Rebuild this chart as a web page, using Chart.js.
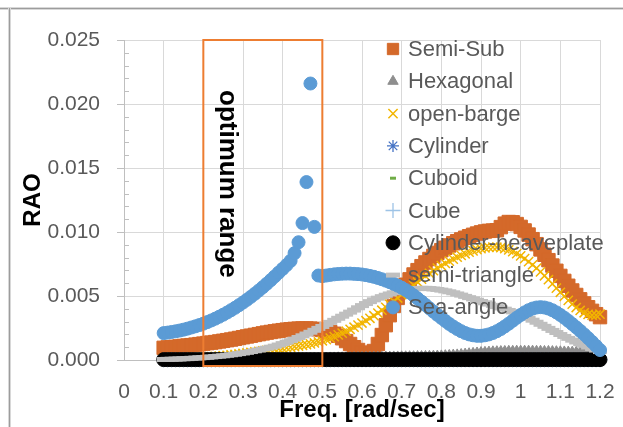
<!DOCTYPE html>
<html>
<head>
<meta charset="utf-8">
<script src="https://cdn.jsdelivr.net/npm/chart.js@4/dist/chart.umd.min.js"></script>
<style>
  html, body { margin: 0; padding: 0; background: #ffffff; }
  #wrap { position: relative; width: 623px; height: 427px; overflow: hidden; background: #ffffff; }
  .frame { position: absolute; background: #9c9c9c; box-shadow: 0 0 0 1px #d8d8d8; }
  #frameTop { left: 0; top: 8px; width: 623px; height: 1px; }
  #frameLeft { left: 9px; top: 8px; width: 1px; height: 419px; }
  canvas { position: absolute; left: 0; top: 0; }
</style>
</head>
<body>
<div id="wrap">
  <div class="frame" id="frameTop"></div>
  <div class="frame" id="frameLeft"></div>
  <canvas id="c" width="623" height="427"></canvas>
</div>
<script>
// Frequency grid [rad/sec]
const freq = [
  0.10,0.11,0.12,0.13,0.14,0.15,0.16,0.17,0.18,0.19,
  0.20,0.21,0.22,0.23,0.24,0.25,0.26,0.27,0.28,0.29,
  0.30,0.31,0.32,0.33,0.34,0.35,0.36,0.37,0.38,0.39,
  0.40,0.41,0.42,0.43,0.44,0.45,0.46,0.47,0.48,0.49,
  0.50,0.51,0.52,0.53,0.54,0.55,0.56,0.57,0.58,0.59,
  0.60,0.61,0.62,0.63,0.64,0.65,0.66,0.67,0.68,0.69,
  0.70,0.71,0.72,0.73,0.74,0.75,0.76,0.77,0.78,0.79,
  0.80,0.81,0.82,0.83,0.84,0.85,0.86,0.87,0.88,0.89,
  0.90,0.91,0.92,0.93,0.94,0.95,0.96,0.97,0.98,0.99,
  1.00,1.01,1.02,1.03,1.04,1.05,1.06,1.07,1.08,1.09,
  1.10,1.11,1.12,1.13,1.14,1.15,1.16,1.17,1.18,1.19,
  1.20
];

// RAO per hull shape, one value per frequency above
const semiSub = [
  0.00095,0.00098,0.00100,0.00103,0.00106,0.00110,0.00113,0.00116,0.00120,0.00124,
  0.00128,0.00132,0.00136,0.00140,0.00145,0.00150,0.00155,0.00160,0.00166,0.00172,
  0.00178,0.00184,0.00190,0.00196,0.00202,0.00208,0.00214,0.00219,0.00224,0.00229,
  0.00233,0.00237,0.00240,0.00243,0.00245,0.00246,0.00246,0.00245,0.00243,0.00240,
  0.00235,0.00228,0.00218,0.00205,0.00189,0.00170,0.00148,0.00125,0.00100,0.00078,
  0.00058,0.00045,0.00045,0.00070,0.00125,0.00195,0.00272,0.00350,0.00422,0.00485,
  0.00540,0.00588,0.00630,0.00668,0.00702,0.00733,0.00762,0.00789,0.00814,0.00837,
  0.00858,0.00877,0.00895,0.00912,0.00928,0.00942,0.00955,0.00967,0.00978,0.00988,
  0.00997,0.01004,0.01009,0.01011,0.01014,0.01038,0.01065,0.01078,0.01076,0.01062,
  0.01040,0.01012,0.00980,0.00944,0.00905,0.00864,0.00822,0.00780,0.00738,0.00697,
  0.00657,0.00618,0.00580,0.00543,0.00508,0.00474,0.00442,0.00412,0.00384,0.00358,
  0.00335
];

const hexagonal = [
  0.00002,0.00002,0.00002,0.00002,0.00003,0.00003,0.00003,0.00003,0.00003,0.00004,
  0.00004,0.00004,0.00004,0.00005,0.00005,0.00005,0.00005,0.00006,0.00006,0.00006,
  0.00006,0.00007,0.00007,0.00007,0.00008,0.00008,0.00008,0.00009,0.00009,0.00010,
  0.00010,0.00010,0.00011,0.00011,0.00012,0.00012,0.00013,0.00013,0.00014,0.00014,
  0.00015,0.00015,0.00016,0.00016,0.00017,0.00017,0.00018,0.00018,0.00019,0.00019,
  0.00020,0.00020,0.00021,0.00021,0.00022,0.00022,0.00023,0.00023,0.00024,0.00024,
  0.00025,0.00025,0.00026,0.00026,0.00027,0.00027,0.00028,0.00029,0.00030,0.00031,
  0.00032,0.00034,0.00036,0.00038,0.00040,0.00043,0.00046,0.00049,0.00052,0.00055,
  0.00058,0.00060,0.00062,0.00064,0.00065,0.00066,0.00067,0.00068,0.00068,0.00069,
  0.00069,0.00069,0.00069,0.00069,0.00068,0.00068,0.00067,0.00067,0.00066,0.00065,
  0.00064,0.00063,0.00062,0.00061,0.00060,0.00059,0.00058,0.00057,0.00056,0.00055,
  0.00054
];

const openBarge = [
  0.00010,0.00011,0.00012,0.00013,0.00014,0.00015,0.00016,0.00017,0.00019,0.00020,
  0.00022,0.00024,0.00026,0.00028,0.00031,0.00034,0.00037,0.00040,0.00043,0.00047,
  0.00051,0.00055,0.00059,0.00063,0.00067,0.00071,0.00075,0.00079,0.00083,0.00087,
  0.00091,0.00095,0.00099,0.00104,0.00109,0.00114,0.00120,0.00126,0.00133,0.00141,
  0.00150,0.00160,0.00171,0.00183,0.00196,0.00210,0.00225,0.00240,0.00256,0.00272,
  0.00289,0.00307,0.00326,0.00346,0.00367,0.00389,0.00412,0.00436,0.00460,0.00484,
  0.00510,0.00535,0.00560,0.00585,0.00609,0.00632,0.00655,0.00677,0.00698,0.00718,
  0.00737,0.00755,0.00772,0.00788,0.00803,0.00817,0.00830,0.00842,0.00853,0.00862,
  0.00870,0.00876,0.00880,0.00882,0.00881,0.00877,0.00870,0.00860,0.00847,0.00831,
  0.00813,0.00792,0.00769,0.00744,0.00717,0.00688,0.00658,0.00627,0.00595,0.00562,
  0.00529,0.00497,0.00466,0.00437,0.00410,0.00387,0.00369,0.00356,0.00350,0.00351,
  0.00358
];

const cylinder = [
  0.00001,0.00001,0.00001,0.00001,0.00001,0.00001,0.00001,0.00001,0.00001,0.00001,
  0.00001,0.00001,0.00001,0.00001,0.00001,0.00001,0.00001,0.00001,0.00001,0.00001,
  0.00001,0.00001,0.00001,0.00001,0.00001,0.00001,0.00001,0.00001,0.00001,0.00001,
  0.00001,0.00001,0.00001,0.00001,0.00001,0.00001,0.00001,0.00001,0.00001,0.00001,
  0.00001,0.00001,0.00001,0.00001,0.00001,0.00001,0.00001,0.00001,0.00001,0.00001,
  0.00001,0.00001,0.00001,0.00001,0.00001,0.00001,0.00001,0.00001,0.00001,0.00001,
  0.00001,0.00001,0.00001,0.00001,0.00001,0.00001,0.00001,0.00001,0.00001,0.00001,
  0.00001,0.00001,0.00001,0.00001,0.00001,0.00001,0.00001,0.00001,0.00001,0.00001,
  0.00001,0.00001,0.00001,0.00001,0.00001,0.00001,0.00001,0.00001,0.00001,0.00001,
  0.00001,0.00001,0.00001,0.00001,0.00001,0.00001,0.00001,0.00001,0.00001,0.00001,
  0.00001,0.00001,0.00001,0.00001,0.00001,0.00001,0.00001,0.00001,0.00001,0.00001,
  0.00001
];

const cuboid = [
  0.00002,0.00002,0.00002,0.00002,0.00002,0.00002,0.00002,0.00002,0.00002,0.00002,
  0.00002,0.00002,0.00002,0.00002,0.00002,0.00002,0.00002,0.00002,0.00002,0.00002,
  0.00002,0.00002,0.00002,0.00002,0.00002,0.00002,0.00002,0.00002,0.00002,0.00002,
  0.00002,0.00002,0.00002,0.00002,0.00002,0.00002,0.00002,0.00002,0.00002,0.00002,
  0.00002,0.00002,0.00002,0.00002,0.00002,0.00002,0.00002,0.00002,0.00002,0.00002,
  0.00002,0.00002,0.00002,0.00002,0.00002,0.00002,0.00002,0.00002,0.00002,0.00002,
  0.00002,0.00002,0.00002,0.00002,0.00002,0.00002,0.00002,0.00002,0.00002,0.00002,
  0.00002,0.00002,0.00002,0.00002,0.00002,0.00002,0.00002,0.00002,0.00002,0.00002,
  0.00002,0.00002,0.00002,0.00002,0.00002,0.00002,0.00002,0.00002,0.00002,0.00002,
  0.00002,0.00002,0.00002,0.00002,0.00002,0.00002,0.00002,0.00002,0.00002,0.00002,
  0.00002,0.00002,0.00002,0.00002,0.00002,0.00002,0.00002,0.00002,0.00002,0.00002,
  0.00002
];

const cube = [
  0.00001,0.00001,0.00001,0.00001,0.00001,0.00001,0.00001,0.00001,0.00001,0.00001,
  0.00001,0.00001,0.00001,0.00001,0.00001,0.00001,0.00001,0.00001,0.00001,0.00001,
  0.00001,0.00001,0.00001,0.00001,0.00001,0.00001,0.00001,0.00001,0.00001,0.00001,
  0.00001,0.00001,0.00001,0.00001,0.00001,0.00001,0.00001,0.00001,0.00001,0.00001,
  0.00001,0.00001,0.00001,0.00001,0.00001,0.00001,0.00001,0.00001,0.00001,0.00001,
  0.00001,0.00001,0.00001,0.00001,0.00001,0.00001,0.00001,0.00001,0.00001,0.00001,
  0.00001,0.00001,0.00001,0.00001,0.00001,0.00001,0.00001,0.00001,0.00001,0.00001,
  0.00001,0.00001,0.00001,0.00001,0.00001,0.00001,0.00001,0.00001,0.00001,0.00001,
  0.00001,0.00001,0.00001,0.00001,0.00001,0.00001,0.00001,0.00001,0.00001,0.00001,
  0.00001,0.00001,0.00001,0.00001,0.00001,0.00001,0.00001,0.00001,0.00001,0.00001,
  0.00001,0.00001,0.00001,0.00001,0.00001,0.00001,0.00001,0.00001,0.00001,0.00001,
  0.00001
];

const cylinderHeaveplate = [
  0.00003,0.00003,0.00003,0.00003,0.00003,0.00003,0.00003,0.00003,0.00003,0.00003,
  0.00003,0.00003,0.00003,0.00003,0.00003,0.00003,0.00003,0.00003,0.00003,0.00003,
  0.00003,0.00003,0.00003,0.00003,0.00003,0.00003,0.00003,0.00003,0.00003,0.00003,
  0.00003,0.00003,0.00003,0.00003,0.00003,0.00003,0.00003,0.00003,0.00003,0.00003,
  0.00003,0.00003,0.00003,0.00003,0.00003,0.00003,0.00003,0.00003,0.00003,0.00003,
  0.00003,0.00003,0.00003,0.00003,0.00003,0.00003,0.00003,0.00003,0.00003,0.00003,
  0.00003,0.00003,0.00003,0.00003,0.00003,0.00003,0.00003,0.00003,0.00003,0.00003,
  0.00003,0.00003,0.00003,0.00003,0.00003,0.00003,0.00003,0.00003,0.00003,0.00003,
  0.00003,0.00003,0.00003,0.00003,0.00003,0.00003,0.00003,0.00003,0.00003,0.00003,
  0.00003,0.00003,0.00003,0.00003,0.00003,0.00003,0.00003,0.00003,0.00003,0.00003,
  0.00003,0.00003,0.00003,0.00003,0.00003,0.00003,0.00003,0.00003,0.00003,0.00003,
  0.00003
];

const semiTriangle = [
  0.00004,0.00005,0.00006,0.00007,0.00008,0.00010,0.00011,0.00013,0.00015,0.00017,
  0.00019,0.00021,0.00024,0.00027,0.00030,0.00033,0.00037,0.00041,0.00045,0.00050,
  0.00055,0.00060,0.00066,0.00072,0.00078,0.00085,0.00092,0.00100,0.00108,0.00117,
  0.00128,0.00139,0.00151,0.00163,0.00176,0.00189,0.00203,0.00217,0.00232,0.00247,
  0.00262,0.00278,0.00294,0.00310,0.00326,0.00342,0.00358,0.00374,0.00390,0.00408,
  0.00425,0.00441,0.00456,0.00470,0.00483,0.00495,0.00506,0.00516,0.00525,0.00533,
  0.00540,0.00546,0.00551,0.00555,0.00558,0.00560,0.00560,0.00558,0.00555,0.00551,
  0.00546,0.00540,0.00533,0.00525,0.00516,0.00507,0.00497,0.00487,0.00477,0.00467,
  0.00457,0.00447,0.00437,0.00427,0.00417,0.00407,0.00397,0.00387,0.00376,0.00365,
  0.00353,0.00340,0.00326,0.00311,0.00295,0.00279,0.00263,0.00247,0.00231,0.00215,
  0.00199,0.00184,0.00169,0.00155,0.00141,0.00128,0.00115,0.00102,0.00090,0.00078,
  0.00066
];

const seaAngle = [
  0.00210,0.00214,0.00219,0.00224,0.00230,0.00237,0.00245,0.00254,0.00263,0.00273,
  0.00284,0.00296,0.00309,0.00323,0.00338,0.00354,0.00371,0.00389,0.00408,0.00428,
  0.00449,0.00471,0.00494,0.00518,0.00543,0.00569,0.00596,0.00624,0.00653,0.00683,
  0.00712,0.00742,0.00775,0.00835,0.00920,0.01070,0.01390,0.02160,0.01040,0.00660,
  0.00655,0.00660,0.00665,0.00669,0.00672,0.00674,0.00675,0.00675,0.00673,0.00671,
  0.00668,0.00663,0.00657,0.00650,0.00641,0.00631,0.00620,0.00608,0.00595,0.00581,
  0.00565,0.00547,0.00527,0.00505,0.00481,0.00456,0.00430,0.00404,0.00378,0.00353,
  0.00329,0.00305,0.00282,0.00261,0.00242,0.00225,0.00211,0.00200,0.00193,0.00189,
  0.00189,0.00193,0.00200,0.00211,0.00225,0.00242,0.00262,0.00284,0.00307,0.00330,
  0.00352,0.00372,0.00389,0.00402,0.00410,0.00413,0.00410,0.00402,0.00389,0.00372,
  0.00352,0.00330,0.00306,0.00281,0.00255,0.00228,0.00200,0.00171,0.00141,0.00110,
  0.00078
];

const seriesNames = ['Semi-Sub', 'Hexagonal', 'open-barge', 'Cylinder', 'Cuboid', 'Cube',
                     'Cylinder-heaveplate', 'semi-triangle', 'Sea-angle'];
const seriesValues = [semiSub, hexagonal, openBarge, cylinder, cuboid, cube,
                      cylinderHeaveplate, semiTriangle, seaAngle];

// Axis ranges and the highlighted frequency band
const xRange = [0, 1.2];
const yRange = [0, 0.025];
const optimumRange = [0.2, 0.5];

// Marker look for each series
const markerStyles = [
  { pointStyle: 'rect',     radius: 9.5, fill: '#D4692A', stroke: '#D4692A', width: 1 },
  { pointStyle: 'triangle', radius: 6,   fill: '#8E8E8E', stroke: '#8E8E8E', width: 1 },
  { pointStyle: 'crossRot', radius: 6.5, fill: '#F2B500', stroke: '#F2B500', width: 1.5 },
  { pointStyle: 'star',     radius: 6,   fill: '#4472C4', stroke: '#4472C4', width: 1.3 },
  { pointStyle: 'line',     radius: 3,   fill: '#70AD47', stroke: '#70AD47', width: 3 },
  { pointStyle: 'cross',    radius: 7.5, fill: '#9DC3E6', stroke: '#9DC3E6', width: 1.3 },
  { pointStyle: 'circle',   radius: 7,   fill: '#000000', stroke: '#000000', width: 1 },
  { pointStyle: 'line',     radius: 7,   fill: '#BFBFBF', stroke: '#BFBFBF', width: 5 },
  { pointStyle: 'circle',   radius: 6.5, fill: '#5B9BD5', stroke: '#5B9BD5', width: 1 }
];

const FONT = "'Liberation Sans', Arial, sans-serif";
Chart.defaults.font.family = FONT;

const datasets = seriesNames.map((name, i) => {
  const s = markerStyles[i];
  return {
    label: name,
    data: freq.map((f, k) => ({ x: f, y: seriesValues[i][k] })),
    showLine: false,
    clip: false,
    pointStyle: s.pointStyle,
    pointRadius: s.radius,
    pointHoverRadius: s.radius,
    pointBackgroundColor: s.fill,
    pointBorderColor: s.stroke,
    pointBorderWidth: s.width,
    // later series are painted over earlier ones
    order: seriesNames.length - 1 - i
  };
});

// Small inward tick marks between the labelled values of the RAO axis
const minorTicks = {
  id: 'minorTicks',
  beforeDatasetsDraw(chart) {
    const y = chart.scales.y, ctx = chart.ctx;
    const left = chart.chartArea.left;
    ctx.save();
    ctx.strokeStyle = '#BFBFBF';
    ctx.lineWidth = 1;
    for (let k = 1; k < 25; k++) {
      if (k % 5 === 0) continue;
      const py = Math.round(y.getPixelForValue(k * 0.001)) + 0.5;
      ctx.beginPath();
      ctx.moveTo(left, py);
      ctx.lineTo(left + 5, py);
      ctx.stroke();
    }
    ctx.restore();
  }
};

// Optimum-range box, its label, and the series key inside the plot
const overlay = {
  id: 'overlay',
  afterDatasetsDraw(chart) {
    const ctx = chart.ctx, xs = chart.scales.x, ys = chart.scales.y;
    const x0 = xs.getPixelForValue(optimumRange[0]);
    const x1 = xs.getPixelForValue(optimumRange[1]);
    const y0 = ys.getPixelForValue(yRange[1]);
    const y1 = ys.getPixelForValue(yRange[0]) + 6;
    ctx.save();
    ctx.strokeStyle = '#ED7D31';
    ctx.lineWidth = 2;
    ctx.strokeRect(x0, y0, x1 - x0, y1 - y0);

    ctx.translate(x0 + 24, y0 + 50);
    ctx.rotate(Math.PI / 2);
    ctx.fillStyle = '#000000';
    ctx.font = 'bold 26px ' + FONT;
    ctx.textAlign = 'left';
    ctx.textBaseline = 'middle';
    ctx.fillText('optimum range', 0, 0);
    ctx.restore();

    const keyX = 393, keyTextX = 408, keyTop = 49, keyStep = 32.3;
    chart.data.datasets.forEach((ds, i) => {
      const cy = keyTop + i * keyStep;
      ctx.save();
      ctx.fillStyle = ds.pointBackgroundColor;
      ctx.strokeStyle = ds.pointBorderColor;
      ctx.lineWidth = ds.pointBorderWidth;
      Chart.helpers.drawPoint(ctx, {
        pointStyle: ds.pointStyle, radius: Math.min(ds.pointRadius, 8),
        rotation: 0, borderWidth: ds.pointBorderWidth
      }, keyX, cy);
      ctx.fillStyle = '#595959';
      ctx.font = '22px ' + FONT;
      ctx.textAlign = 'left';
      ctx.textBaseline = 'middle';
      ctx.fillText(ds.label, keyTextX, cy + 1);
      ctx.restore();
    });
  }
};

new Chart(document.getElementById('c'), {
  type: 'scatter',
  data: { datasets },
  options: {
    responsive: false,
    animation: false,
    devicePixelRatio: 1,
    layout: { padding: { left: 0, top: 40, right: 23, bottom: 0 } },
    plugins: { legend: { display: false }, tooltip: { enabled: false } },
    events: [],
    scales: {
      x: {
        type: 'linear',
        min: xRange[0], max: xRange[1],
        afterFit(scale) {
          scale.height = 67;
          scale.paddingLeft = 0;
          scale.paddingRight = 0;
        },
        grid: { color: '#D9D9D9', drawTicks: false },
        border: { color: '#BFBFBF' },
        ticks: {
          stepSize: 0.1, autoSkip: false, maxRotation: 0, padding: 20,
          color: '#595959', font: { size: 21 },
          callback: v => String(Math.round(v * 10) / 10)
        },
        title: {
          display: true, text: 'Freq. [rad/sec]', color: '#000000',
          font: { size: 24, weight: 'bold' }, padding: { top: 0, bottom: 2 }
        }
      },
      y: {
        type: 'linear',
        min: yRange[0], max: yRange[1],
        afterFit(scale) {
          scale.width = 124;
          scale.paddingTop = 0;
          scale.paddingBottom = 0;
        },
        grid: { color: '#D9D9D9', tickColor: '#BFBFBF', tickLength: 7 },
        border: { color: '#BFBFBF' },
        ticks: {
          stepSize: 0.005, padding: 17,
          color: '#595959', font: { size: 21 },
          callback: v => v.toFixed(3)
        },
        title: {
          display: true, text: 'RAO', color: '#000000',
          font: { size: 24, weight: 'bold' }, padding: { top: 19, bottom: 0 }
        }
      }
    }
  },
  plugins: [minorTicks, overlay]
});
</script>
</body>
</html>
